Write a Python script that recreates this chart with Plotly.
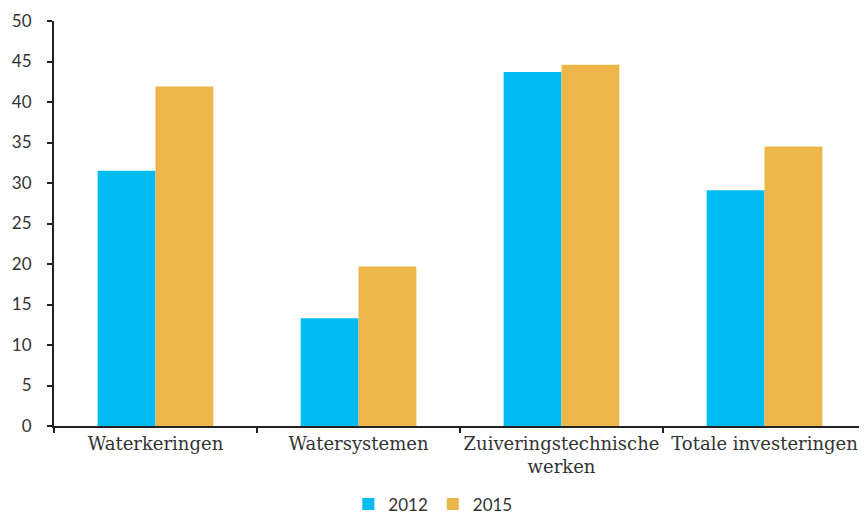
import plotly.graph_objects as go

categories = ["Waterkeringen", "Watersystemen", "Zuiveringstechnische<br>werken", "Totale investeringen"]
series_names = ["2012", "2015"]
values_2012 = [31.5, 13.3, 43.7, 29.1]
values_2015 = [41.9, 19.7, 44.6, 34.5]
colors = ["#00BAF2", "#ECB64A"]
y_ticks = [0, 5, 10, 15, 20, 25, 30, 35, 40, 45, 50]

fig = go.Figure()
for name, vals, col in zip(series_names, [values_2012, values_2015], colors):
    fig.add_trace(go.Bar(x=categories, y=vals, name=name, marker=dict(color=col, line=dict(width=0))))

fig.update_layout(
    width=867, height=516,
    margin=dict(l=46, r=9, t=13, b=98),
    barmode="group", bargap=0.43, bargroupgap=0,
    plot_bgcolor="white", paper_bgcolor="white",
    font=dict(family="Lato, Noto Sans, sans-serif", size=16, color="#333333"),
    legend=dict(orientation="h", xref="container", yref="container",
                x=0.49, xanchor="center", y=0.038, yanchor="middle",
                font=dict(size=17, family="Lato, sans-serif"), itemwidth=30, tracegroupgap=0),
    showlegend=True,
)
fig.update_xaxes(
    automargin=False, tickangle=0,
    showline=True, linecolor="#222222", linewidth=2,
    ticks="outside", tickson="boundaries", ticklen=5, tickcolor="#222222", tickwidth=2,
    tickfont=dict(family="DejaVu Serif, serif", size=18, color="#333333"),
    showgrid=False,
)
fig.update_yaxes(
    automargin=False,
    range=[0, 50], tickvals=y_ticks,
    showline=True, linecolor="#222222", linewidth=2,
    ticks="outside", ticklen=5, tickcolor="#222222", tickwidth=2,
    ticklabelstandoff=12,
    tickfont=dict(family="Lato, Noto Sans, sans-serif", size=17, color="#333333"),
    showgrid=False, zeroline=False,
)

fig.write_html("out.html")
